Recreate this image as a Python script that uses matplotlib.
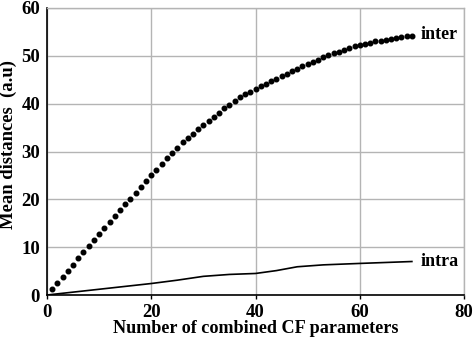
import numpy as np
import matplotlib
matplotlib.use('Agg')
import matplotlib.pyplot as plt

# inter: one point per number of combined parameters (1..70)
inter_x = list(range(1, 71))
inter_y = [1.2, 2.5, 3.8, 5.1, 6.3, 7.7, 8.9, 10.2, 11.5, 12.8,
           14.0, 15.3, 16.5, 17.7, 19.0, 20.1, 21.4, 22.6, 23.8, 25.0,
           26.2, 27.4, 28.6, 29.7, 30.8, 31.9, 32.8, 33.7, 34.6, 35.5,
           36.4, 37.3, 38.1, 39.0, 39.8, 40.5, 41.3, 42.0, 42.5, 43.1,
           43.6, 44.2, 44.7, 45.2, 45.7, 46.3, 46.8, 47.3, 47.8, 48.3,
           48.8, 49.2, 49.7, 50.2, 50.6, 50.9, 51.3, 51.6, 52.0, 52.3,
           52.5, 52.7, 53.0, 53.2, 53.4, 53.6, 53.8, 53.9, 54.1, 54.2]

# intra: solid line
intra_x = [0, 10, 20, 25, 30, 35, 40, 44, 48, 53, 60, 65, 70]
intra_y = [0, 1.2, 2.4, 3.1, 3.9, 4.3, 4.5, 5.1, 5.9, 6.3, 6.6, 6.8, 7.0]

xticks = [0, 20, 40, 60, 80]
yticks = [0, 10, 20, 30, 40, 50, 60]

plt.rcParams['font.family'] = ['Liberation Serif', 'DejaVu Serif']
plt.rcParams['font.weight'] = 'bold'

fig = plt.figure(figsize=(4.73, 3.39), dpi=100)
ax = fig.add_axes([47 / 473, 1 - 295 / 339, 417 / 473, 287 / 339])

ax.plot(inter_x, inter_y, linestyle='none', marker='o', ms=3.3, color='black')
ax.plot(intra_x, intra_y, color='black', lw=1.2)

ax.text(71.7, 54.4, 'inter', fontsize=13, fontweight='bold', va='center', ha='left')
ax.text(71.7, 7.1, 'intra', fontsize=13, fontweight='bold', va='center', ha='left')

ax.set_xlim(0, 80)
ax.set_ylim(0, 60)
ax.set_xticks(xticks)
ax.set_yticks(yticks)
ax.grid(True, color='#b4b4b4', lw=1.0)
ax.set_axisbelow(True)

for s in ['top', 'right']:
    ax.spines[s].set_color('#b4b4b4')
    ax.spines[s].set_linewidth(1.0)
for s in ['left', 'bottom']:
    ax.spines[s].set_color('black')
    ax.spines[s].set_linewidth(1.2)

ax.tick_params(axis='x', length=3, width=1, pad=3.5, labelsize=13.5)
ax.tick_params(axis='y', length=0, pad=5, labelsize=13.5)

ax.set_xlabel('Number of combined CF parameters', fontsize=13.1, fontweight='bold', labelpad=-1)
ax.set_ylabel('Mean distances  (a.u)', fontsize=13.4, fontweight='bold')
ax.yaxis.set_label_coords(-0.072, 0.526)

fig.savefig('out.png', dpi=100)
